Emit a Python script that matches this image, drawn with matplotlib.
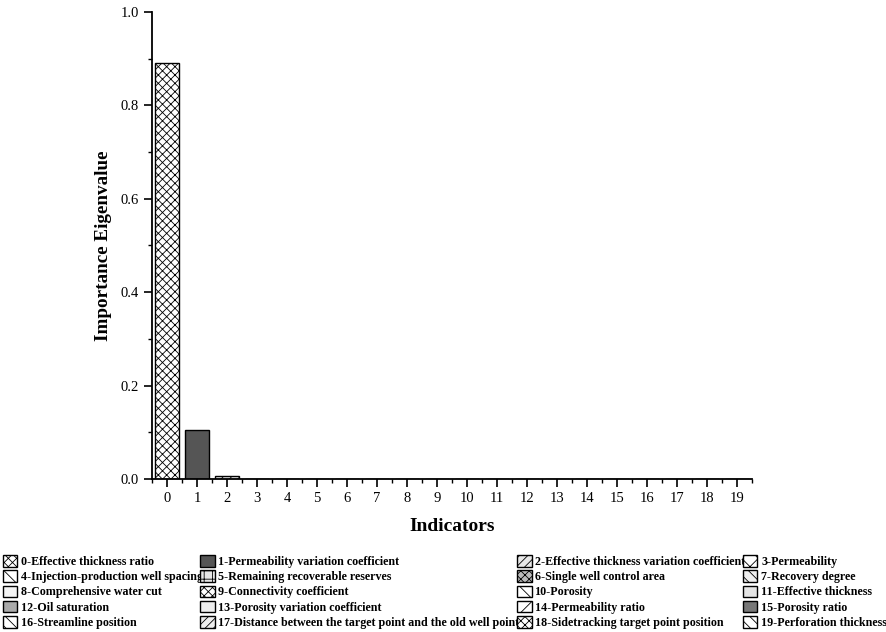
import matplotlib
matplotlib.use('Agg')
import matplotlib.pyplot as plt
from matplotlib.ticker import MultipleLocator

plt.rcParams['font.family'] = ['Liberation Serif', 'DejaVu Serif']
plt.rcParams['hatch.linewidth'] = 0.6

indicators = list(range(20))
values = [0.890, 0.104, 0.006, 0.0008, 0.0006, 0.0005, 0.0004, 0.0004, 0.0003, 0.0003,
          0.0003, 0.0002, 0.0002, 0.0002, 0.0002, 0.0001, 0.0001, 0.0001, 0.0001, 0.0001]
names = ['Effective thickness ratio', 'Permeability variation coefficient',
         'Effective thickness variation coefficient', 'Permeability',
         'Injection-production well spacing', 'Remaining recoverable reserves',
         'Single well control area', 'Recovery degree', 'Comprehensive water cut',
         'Connectivity coefficient', 'Porosity', 'Effective thickness', 'Oil saturation',
         'Porosity variation coefficient', 'Permeability ratio', 'Porosity ratio',
         'Streamline position', 'Distance between the target point and the old well point',
         'Sidetracking target point position', 'Perforation thickness']
labels = ['%d-%s' % (i, n) for i, n in zip(indicators, names)]

# fill / hatch per indicator
colors = ['white', '#555555', '#e8e8e8', 'white', 'white', '#e6e6e6', '#bbbbbb', '#eeeeee',
          '#f4f4f4', 'white', 'white', '#e4e4e4', '#aaaaaa', '#eeeeee', 'white', '#777777',
          'white', '#eeeeee', 'white', 'white']
hatches = ['xxxx', '', '////', 'xx', '\\', '++', 'xxxx', '\\\\\\', '', 'xxxx', '\\\\', '',
           '', '', '/', '', '\\\\\\', '////', 'xxxx', '\\\\\\']

fig = plt.figure(figsize=(8.86, 6.32), dpi=100)
ax = fig.add_axes([0.1716, 0.2421, 0.677, 0.739])

bars = ax.bar(indicators, values, width=0.8, color=colors, edgecolor='black', linewidth=1.0)
for b, h in zip(bars, hatches):
    b.set_hatch(h)

ax.set_xlim(-0.5, 19.5)
ax.set_ylim(0, 1.0)
ax.set_xticks(indicators)
ax.xaxis.set_minor_locator(MultipleLocator(0.5))
ax.yaxis.set_major_locator(MultipleLocator(0.2))
ax.yaxis.set_minor_locator(MultipleLocator(0.1))
ax.yaxis.set_major_formatter(matplotlib.ticker.FormatStrFormatter('%.1f'))
ax.tick_params(which='major', direction='out', length=6, width=1.2, labelsize=10.5)
ax.tick_params(which='minor', direction='out', length=3, width=1.0)
for s in ['top', 'right']:
    ax.spines[s].set_visible(False)
for s in ['left', 'bottom']:
    ax.spines[s].set_linewidth(1.3)

ax.set_xlabel('Indicators', fontsize=14, fontweight='bold', labelpad=9)
ax.set_ylabel('Importance Eigenvalue', fontsize=13.8, fontweight='bold', labelpad=6)

# legend laid out row by row, 4 columns
order = [r * 4 + c for c in range(4) for r in range(5)]
fig.legend([bars[i] for i in order], [labels[i] for i in order], ncol=4,
           loc='upper left', bbox_to_anchor=(0.003, 1 - 555 / 632), frameon=False,
           prop={'weight': 'bold', 'size': 8.65}, handlelength=1.2, handleheight=1.1,
           handletextpad=0.3, columnspacing=-0.2, labelspacing=0.2, borderaxespad=0,
           borderpad=0)

fig.savefig('out.png', dpi=100)
